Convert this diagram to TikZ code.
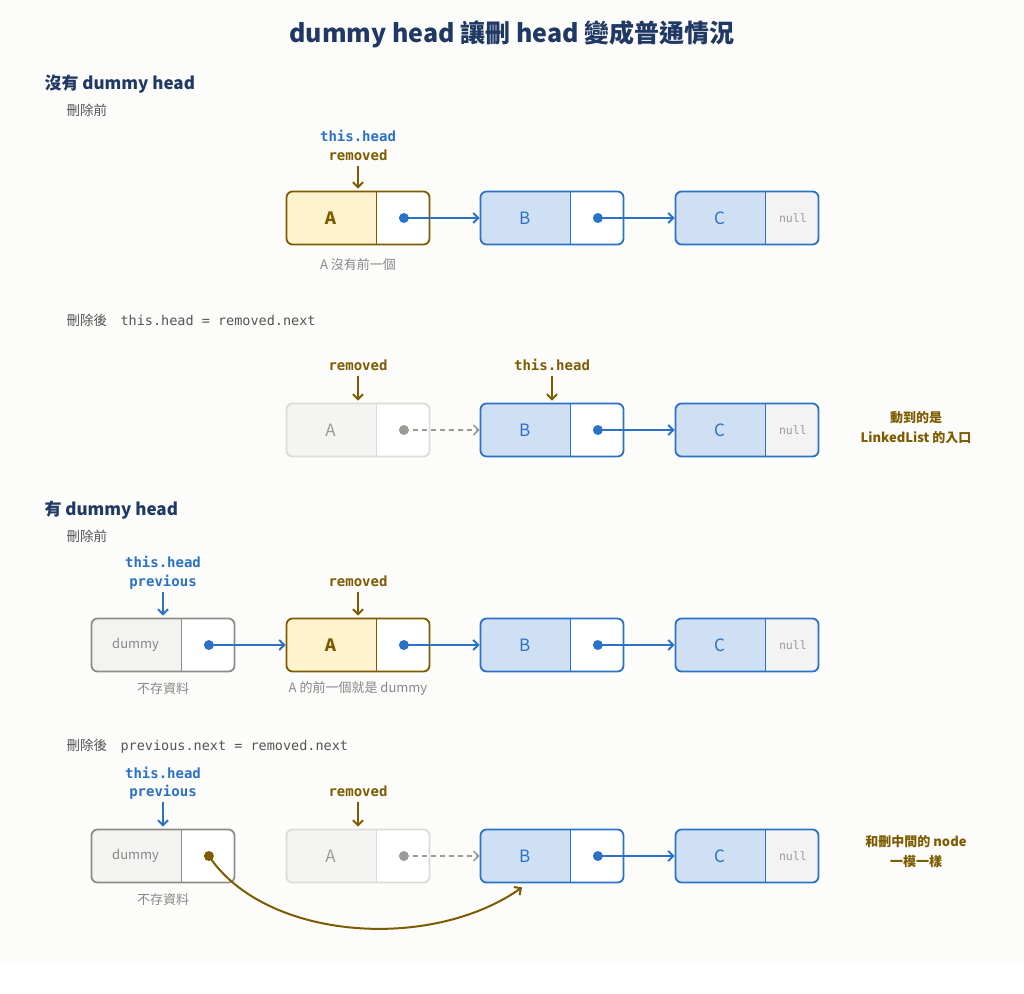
\documentclass[tikz,border=0pt]{standalone}
\usepackage{fontspec}
\setmainfont{Noto Sans CJK TC}
\setmonofont{DejaVu Sans Mono}
\usetikzlibrary{arrows.meta}
\definecolor{paper}{HTML}{FCFCFA}
\definecolor{navy}{HTML}{1F3864}
\definecolor{blueline}{HTML}{2B72C6}
\definecolor{bluefill}{HTML}{CFE0F4}
\definecolor{goldline}{HTML}{7D5B00}
\definecolor{goldfill}{HTML}{FFF3CF}
\definecolor{dummyline}{HTML}{8C8C88}
\definecolor{dummyfill}{HTML}{F3F3F1}
\definecolor{fadeline}{HTML}{DCDCD6}
\definecolor{fadefill}{HTML}{F4F4F2}
\definecolor{fadetext}{HTML}{9A9A96}
\definecolor{nullfill}{HTML}{F3F3F3}
\definecolor{captext}{HTML}{555555}
\definecolor{notetext}{HTML}{888888}
\begin{document}
\begin{tikzpicture}[x=1pt,y=-1pt,
    cell/.style n args={3}{draw=#1, fill=#2, line width=1.8pt, rounded corners=6pt,
      minimum width=143pt, minimum height=53pt, inner sep=0pt,
      path picture={
        \fill[#3, sharp corners] ([xshift=90pt]path picture bounding box.south west)
          rectangle (path picture bounding box.north east);
        \draw[#1, line width=1.2pt, sharp corners] ([xshift=90pt]path picture bounding box.south west)
          -- ([xshift=90pt]path picture bounding box.north west);}},
    datatext/.style={font=\fontsize{17}{19}\selectfont},
    nulltext/.style={font=\ttfamily\fontsize{11.5}{13}\selectfont, text=fadetext},
    ptrtext/.style={font=\ttfamily\bfseries\fontsize{14}{16}\selectfont, text height=10pt, text depth=0pt},
    heading/.style={anchor=west, font=\bfseries\fontsize{17}{20}\selectfont, text=navy},
    caption/.style={anchor=west, font=\fontsize{13.5}{16}\selectfont, text=captext},
    note/.style={font=\fontsize{13}{16}\selectfont, text=notetext},
    sidenote/.style={align=center, font=\bfseries\fontsize{13}{20}\selectfont, text=goldline},
    link/.style={blueline, line width=2pt, -{Straight Barb[length=5pt,width=10pt]}},
    ptr/.style={line width=2pt, shorten >=2pt, -{Straight Barb[length=5pt,width=10pt]}}]
  \fill[paper] (0,0) rectangle (1024,962);
  \useasboundingbox (0,0) rectangle (1024,993);

  \node[font=\bfseries\fontsize{25}{29}\selectfont, text=navy] (title) at (512,34)
    {dummy head 讓刪 head 變成普通情況};

  % without dummy head
  \node[heading] (sec1) at (41,84) {沒有 dummy head};
  \node[caption] (before1) at (63,110) {刪除前};

  \node[cell={goldline}{goldfill}{white}] (a1) at (358,218) {};
  \node[datatext, text=goldline, font=\bfseries\fontsize{17}{19}\selectfont] (a1v) at ([xshift=45pt]a1.west) {A};
  \coordinate (a1p) at ([xshift=-26.5pt]a1.east);
  \node[cell={blueline}{bluefill}{white}] (b1) at (552,218) {};
  \node[datatext, text=blueline] (b1v) at ([xshift=45pt]b1.west) {B};
  \coordinate (b1p) at ([xshift=-26.5pt]b1.east);
  \node[cell={blueline}{bluefill}{nullfill}] (c1) at (747,218) {};
  \node[datatext, text=blueline] (c1v) at ([xshift=45pt]c1.west) {C};
  \node[nulltext] (c1n) at ([xshift=-26.5pt]c1.east) {null};
  \fill[blueline] (a1p) circle (5pt);
  \fill[blueline] (b1p) circle (5pt);
  \draw[link] (a1p) -- (b1.west);
  \draw[link] (b1p) -- (c1.west);
  \node[ptrtext, text=blueline] (th1) at (358,136) {this.head};
  \node[ptrtext, text=goldline] (rm1) at (358,155) {removed};
  \draw[ptr, goldline] ([yshift=-2pt]rm1.south) -- (a1.north);
  \node[note] (a1c) at (358,265) {A 沒有前一個};

  \node[caption] (after1) at (63,320) {刪除後\hspace{1em}\texttt{this.head = removed.next}};

  \node[cell={fadeline}{fadefill}{white}] (a2) at (358,430) {};
  \node[datatext, text=fadetext] (a2v) at ([xshift=45pt]a2.west) {A};
  \coordinate (a2p) at ([xshift=-26.5pt]a2.east);
  \node[cell={blueline}{bluefill}{white}] (b2) at (552,430) {};
  \node[datatext, text=blueline] (b2v) at ([xshift=45pt]b2.west) {B};
  \coordinate (b2p) at ([xshift=-26.5pt]b2.east);
  \node[cell={blueline}{bluefill}{nullfill}] (c2) at (747,430) {};
  \node[datatext, text=blueline] (c2v) at ([xshift=45pt]c2.west) {C};
  \node[nulltext] (c2n) at ([xshift=-26.5pt]c2.east) {null};
  \fill[fadetext] (a2p) circle (5pt);
  \fill[blueline] (b2p) circle (5pt);
  \draw[link, fadetext, line width=1.6pt, dash pattern=on 5pt off 4pt] (a2p) -- (b2.west);
  \draw[link] (b2p) -- (c2.west);
  \node[ptrtext, text=goldline] (rm2) at (358,365) {removed};
  \node[ptrtext, text=goldline] (th2) at (552,365) {this.head};
  \draw[ptr, goldline] ([yshift=-2pt]rm2.south) -- (a2.north);
  \draw[ptr, goldline] ([yshift=-2pt]th2.south) -- (b2.north);
  \node[sidenote] (n2) at (916,428) {動到的是\\LinkedList 的入口};

  % with dummy head
  \node[heading] (sec2) at (41,510) {有 dummy head};
  \node[caption] (before2) at (63,536) {刪除前};

  \node[cell={dummyline}{dummyfill}{white}] (d3) at (163,645) {};
  \node[font=\fontsize{13}{15}\selectfont, text=notetext] (d3v) at ([xshift=45pt]d3.west) {dummy};
  \coordinate (d3p) at ([xshift=-26.5pt]d3.east);
  \node[cell={goldline}{goldfill}{white}] (a3) at (358,645) {};
  \node[datatext, text=goldline, font=\bfseries\fontsize{17}{19}\selectfont] (a3v) at ([xshift=45pt]a3.west) {A};
  \coordinate (a3p) at ([xshift=-26.5pt]a3.east);
  \node[cell={blueline}{bluefill}{white}] (b3) at (552,645) {};
  \node[datatext, text=blueline] (b3v) at ([xshift=45pt]b3.west) {B};
  \coordinate (b3p) at ([xshift=-26.5pt]b3.east);
  \node[cell={blueline}{bluefill}{nullfill}] (c3) at (747,645) {};
  \node[datatext, text=blueline] (c3v) at ([xshift=45pt]c3.west) {C};
  \node[nulltext] (c3n) at ([xshift=-26.5pt]c3.east) {null};
  \fill[blueline] (d3p) circle (5pt);
  \fill[blueline] (a3p) circle (5pt);
  \fill[blueline] (b3p) circle (5pt);
  \draw[link] (d3p) -- (a3.west);
  \draw[link] (a3p) -- (b3.west);
  \draw[link] (b3p) -- (c3.west);
  \node[ptrtext, text=blueline] (th3) at (163,562) {this.head};
  \node[ptrtext, text=blueline] (pv3) at (163,581) {previous};
  \node[ptrtext, text=goldline] (rm3) at (358,581) {removed};
  \draw[ptr, blueline] ([yshift=-2pt]pv3.south) -- (d3.north);
  \draw[ptr, goldline] ([yshift=-2pt]rm3.south) -- (a3.north);
  \node[note] (d3c) at (163,689) {不存資料};
  \node[note] (a3c) at (358,689) {A 的前一個就是 dummy};

  \node[caption] (after2) at (63,746) {刪除後\hspace{1em}\texttt{previous.next = removed.next}};

  \node[cell={dummyline}{dummyfill}{white}] (d4) at (163,856) {};
  \node[font=\fontsize{13}{15}\selectfont, text=notetext] (d4v) at ([xshift=45pt]d4.west) {dummy};
  \coordinate (d4p) at ([xshift=-26.5pt]d4.east);
  \node[cell={fadeline}{fadefill}{white}] (a4) at (358,856) {};
  \node[datatext, text=fadetext] (a4v) at ([xshift=45pt]a4.west) {A};
  \coordinate (a4p) at ([xshift=-26.5pt]a4.east);
  \node[cell={blueline}{bluefill}{white}] (b4) at (552,856) {};
  \node[datatext, text=blueline] (b4v) at ([xshift=45pt]b4.west) {B};
  \coordinate (b4p) at ([xshift=-26.5pt]b4.east);
  \node[cell={blueline}{bluefill}{nullfill}] (c4) at (747,856) {};
  \node[datatext, text=blueline] (c4v) at ([xshift=45pt]c4.west) {C};
  \node[nulltext] (c4n) at ([xshift=-26.5pt]c4.east) {null};
  \coordinate (b4in) at ([xshift=-30pt,yshift=-4pt]b4.south);
  \fill[goldline] (d4p) circle (5pt);
  \fill[fadetext] (a4p) circle (5pt);
  \fill[blueline] (b4p) circle (5pt);
  \draw[link, goldline, line width=2pt] (d4p) .. controls (265,940) and (430,952) .. (b4in);
  \draw[link, fadetext, line width=1.6pt, dash pattern=on 5pt off 4pt] (a4p) -- (b4.west);
  \draw[link] (b4p) -- (c4.west);
  \node[ptrtext, text=blueline] (th4) at (163,773) {this.head};
  \node[ptrtext, text=blueline] (pv4) at (163,791) {previous};
  \node[ptrtext, text=goldline] (rm4) at (358,791) {removed};
  \draw[ptr, blueline] ([yshift=-2pt]pv4.south) -- (d4.north);
  \draw[ptr, goldline] ([yshift=-2pt]rm4.south) -- (a4.north);
  \node[note] (d4c) at (163,900) {不存資料};
  \node[sidenote] (n4) at (916,852) {和刪中間的 node\\一模一樣};
\end{tikzpicture}
\end{document}
